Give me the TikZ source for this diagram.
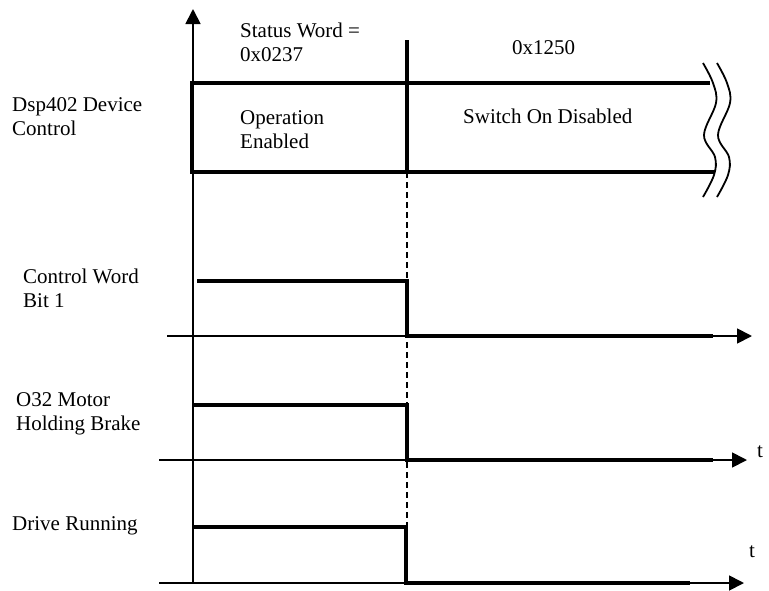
\documentclass[tikz,border=0pt]{standalone}
\usepackage{fontspec}
\setmainfont{Liberation Serif}
\usetikzlibrary{arrows.meta, positioning, calc}
\tikzset{
  time_axis/.style={-{Triangle[length=15pt, width=15pt]}, line width=1.8pt, black},
  signal/.style={line width=3.8pt, black},
  box_edge/.style={line width=3.8pt, black},
  cut_line/.style={line width=1.6pt, dash pattern=on 6pt off 4pt},
  break_mark/.style={line width=1.8pt},
  label_text/.style={font=\fontsize{21}{24}\selectfont, inner sep=0pt, align=left, anchor=base west}
}

\begin{document}
\begin{tikzpicture}[x=1pt, y=-1pt]
  \useasboundingbox (0,0) rectangle (769,590);

  % Vertical axis
  \coordinate (v_bot) at (193,583);
  \coordinate (v_top) at (193,9);
  \draw[time_axis] (v_bot) -- (v_top);

  % Device control box
  \coordinate (box_nw) at (192,83);
  \coordinate (box_sw) at (192,172);
  \coordinate (box_ne) at (710,83);
  \coordinate (box_se) at (715,172);
  \coordinate (edge_top) at (407,40);
  \coordinate (edge_bot) at (407,172);
  \coordinate (edge_end) at (407,583);
  \draw[box_edge] (box_ne) -- (box_nw) -- (box_sw) -- (box_se);
  \draw[box_edge] (edge_top) -- (edge_bot);
  \draw[cut_line] (edge_bot) -- (edge_end);

  % Break marks
  \foreach \dx in {0,14}
    \draw[break_mark, xshift=\dx pt] plot[smooth, tension=0.6]
      coordinates {(703,63) (713,83) (716,103) (704,135) (715,157) (714,175) (703,197)};

  % Control word bit 1
  \coordinate (cw_start) at (167,336);
  \coordinate (cw_end) at (752,336);
  \coordinate (cw_rise) at (197,281);
  \coordinate (cw_fall) at (407,281);
  \coordinate (cw_low) at (407,336);
  \coordinate (cw_stop) at (713,336);
  \draw[time_axis] (cw_start) -- (cw_end);
  \draw[signal] (cw_rise) -- (cw_fall) -- (cw_low) -- (cw_stop);

  % Motor holding brake
  \coordinate (br_start) at (159,460);
  \coordinate (br_end) at (747,460);
  \coordinate (br_rise) at (192,405);
  \coordinate (br_fall) at (407,405);
  \coordinate (br_low) at (407,460);
  \coordinate (br_stop) at (713,460);
  \draw[time_axis] (br_start) -- (br_end);
  \draw[signal] (br_rise) -- (br_fall) -- (br_low) -- (br_stop);

  % Drive running
  \coordinate (dr_start) at (159,583);
  \coordinate (dr_end) at (744,583);
  \coordinate (dr_rise) at (192,527);
  \coordinate (dr_fall) at (406,527);
  \coordinate (dr_low) at (406,583);
  \coordinate (dr_stop) at (690,583);
  \draw[time_axis] (dr_start) -- (dr_end);
  \draw[signal] (dr_rise) -- (dr_fall) -- (dr_low) -- (dr_stop);

  % Labels (base of a two-line label is its second line)
  \node[label_text] (dev_label) at (12,135) {Dsp402 Device\\Control};
  \node[label_text] (status_label) at (240,61) {Status Word =\\0x0237};
  \node[label_text] (next_label) at (512,54) {0x1250};
  \node[label_text] (op_label) at (240,148) {Operation\\Enabled};
  \node[label_text] (off_label) at (463,123) {Switch On Disabled};
  \node[label_text] (cw_label) at (23,307) {Control Word\\Bit 1};
  \node[label_text] (brake_label) at (16,430) {O32 Motor\\Holding Brake};
  \node[label_text] (run_label) at (12,530) {Drive Running};
  \node[label_text] (t_brake) at (757,457) {t};
  \node[label_text] (t_run) at (749,557) {t};

\end{tikzpicture}
\end{document}
